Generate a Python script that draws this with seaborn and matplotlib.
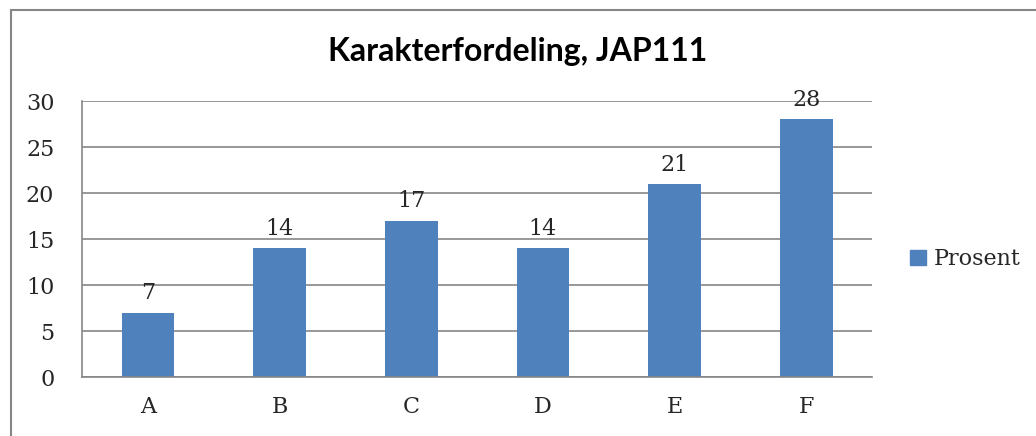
"""
Grade distribution bar chart, JAP111
"""

import matplotlib.pyplot as plt
import matplotlib.patches as mpatches
import pandas as pd
import seaborn as sns

grades = ["A", "B", "C", "D", "E", "F"]
percent = [7, 14, 17, 14, 21, 28]
title = "Karakterfordeling, JAP111"
series_name = "Prosent"

BAR_COLOR = "#4F81BD"
GRID_COLOR = "#868686"

df = pd.DataFrame({"grade": grades, "value": percent})

sns.set_style("white")
plt.rcParams["font.family"] = ["DejaVu Serif"]

fig = plt.figure(figsize=(10.36, 4.36), dpi=100)
ax = fig.add_axes([0.0792, 0.1353, 0.7625, 0.6330])

sns.barplot(x="grade", y="value", data=df, color=BAR_COLOR, width=0.4,
            saturation=1, linewidth=0, ax=ax)

for i, v in enumerate(percent):
    ax.text(i, v + 0.9, str(v), ha="center", va="bottom", fontsize=16)

ax.set_ylim(0, 30)
ax.set_yticks(range(0, 31, 5))
ax.set_xlim(-0.5, len(grades) - 0.5)
ax.yaxis.grid(True, color=GRID_COLOR, linewidth=1.2)
ax.set_axisbelow(True)
ax.set_xlabel("")
ax.set_ylabel("")
for side in ["top", "right"]:
    ax.spines[side].set_visible(False)
for side in ["left", "bottom"]:
    ax.spines[side].set_color(GRID_COLOR)
    ax.spines[side].set_linewidth(1.2)
ax.tick_params(axis="both", length=0, labelsize=16)
ax.tick_params(axis="x", pad=14)
ax.tick_params(axis="y", pad=20)

fig.text(0.5, 0.882, title, ha="center", va="center", fontsize=23,
         fontweight="bold", color="black", family=["Lato", "DejaVu Sans"])

handle = mpatches.Patch(color=BAR_COLOR, label=series_name)
fig.legend(handles=[handle], loc="center left", bbox_to_anchor=(0.868, 0.405),
           frameon=False, fontsize=16, handlelength=0.7, handleheight=0.7,
           handletextpad=0.35, borderpad=0)

# chart border, open to the right and bottom like the cropped original
fig.patches.append(mpatches.Rectangle((11 / 1036, -0.1), 1.2, 1 - 10 / 436 + 0.1,
                                      transform=fig.transFigure, fill=False,
                                      edgecolor=GRID_COLOR, linewidth=1.5))

fig.savefig("out.png", dpi=100)
